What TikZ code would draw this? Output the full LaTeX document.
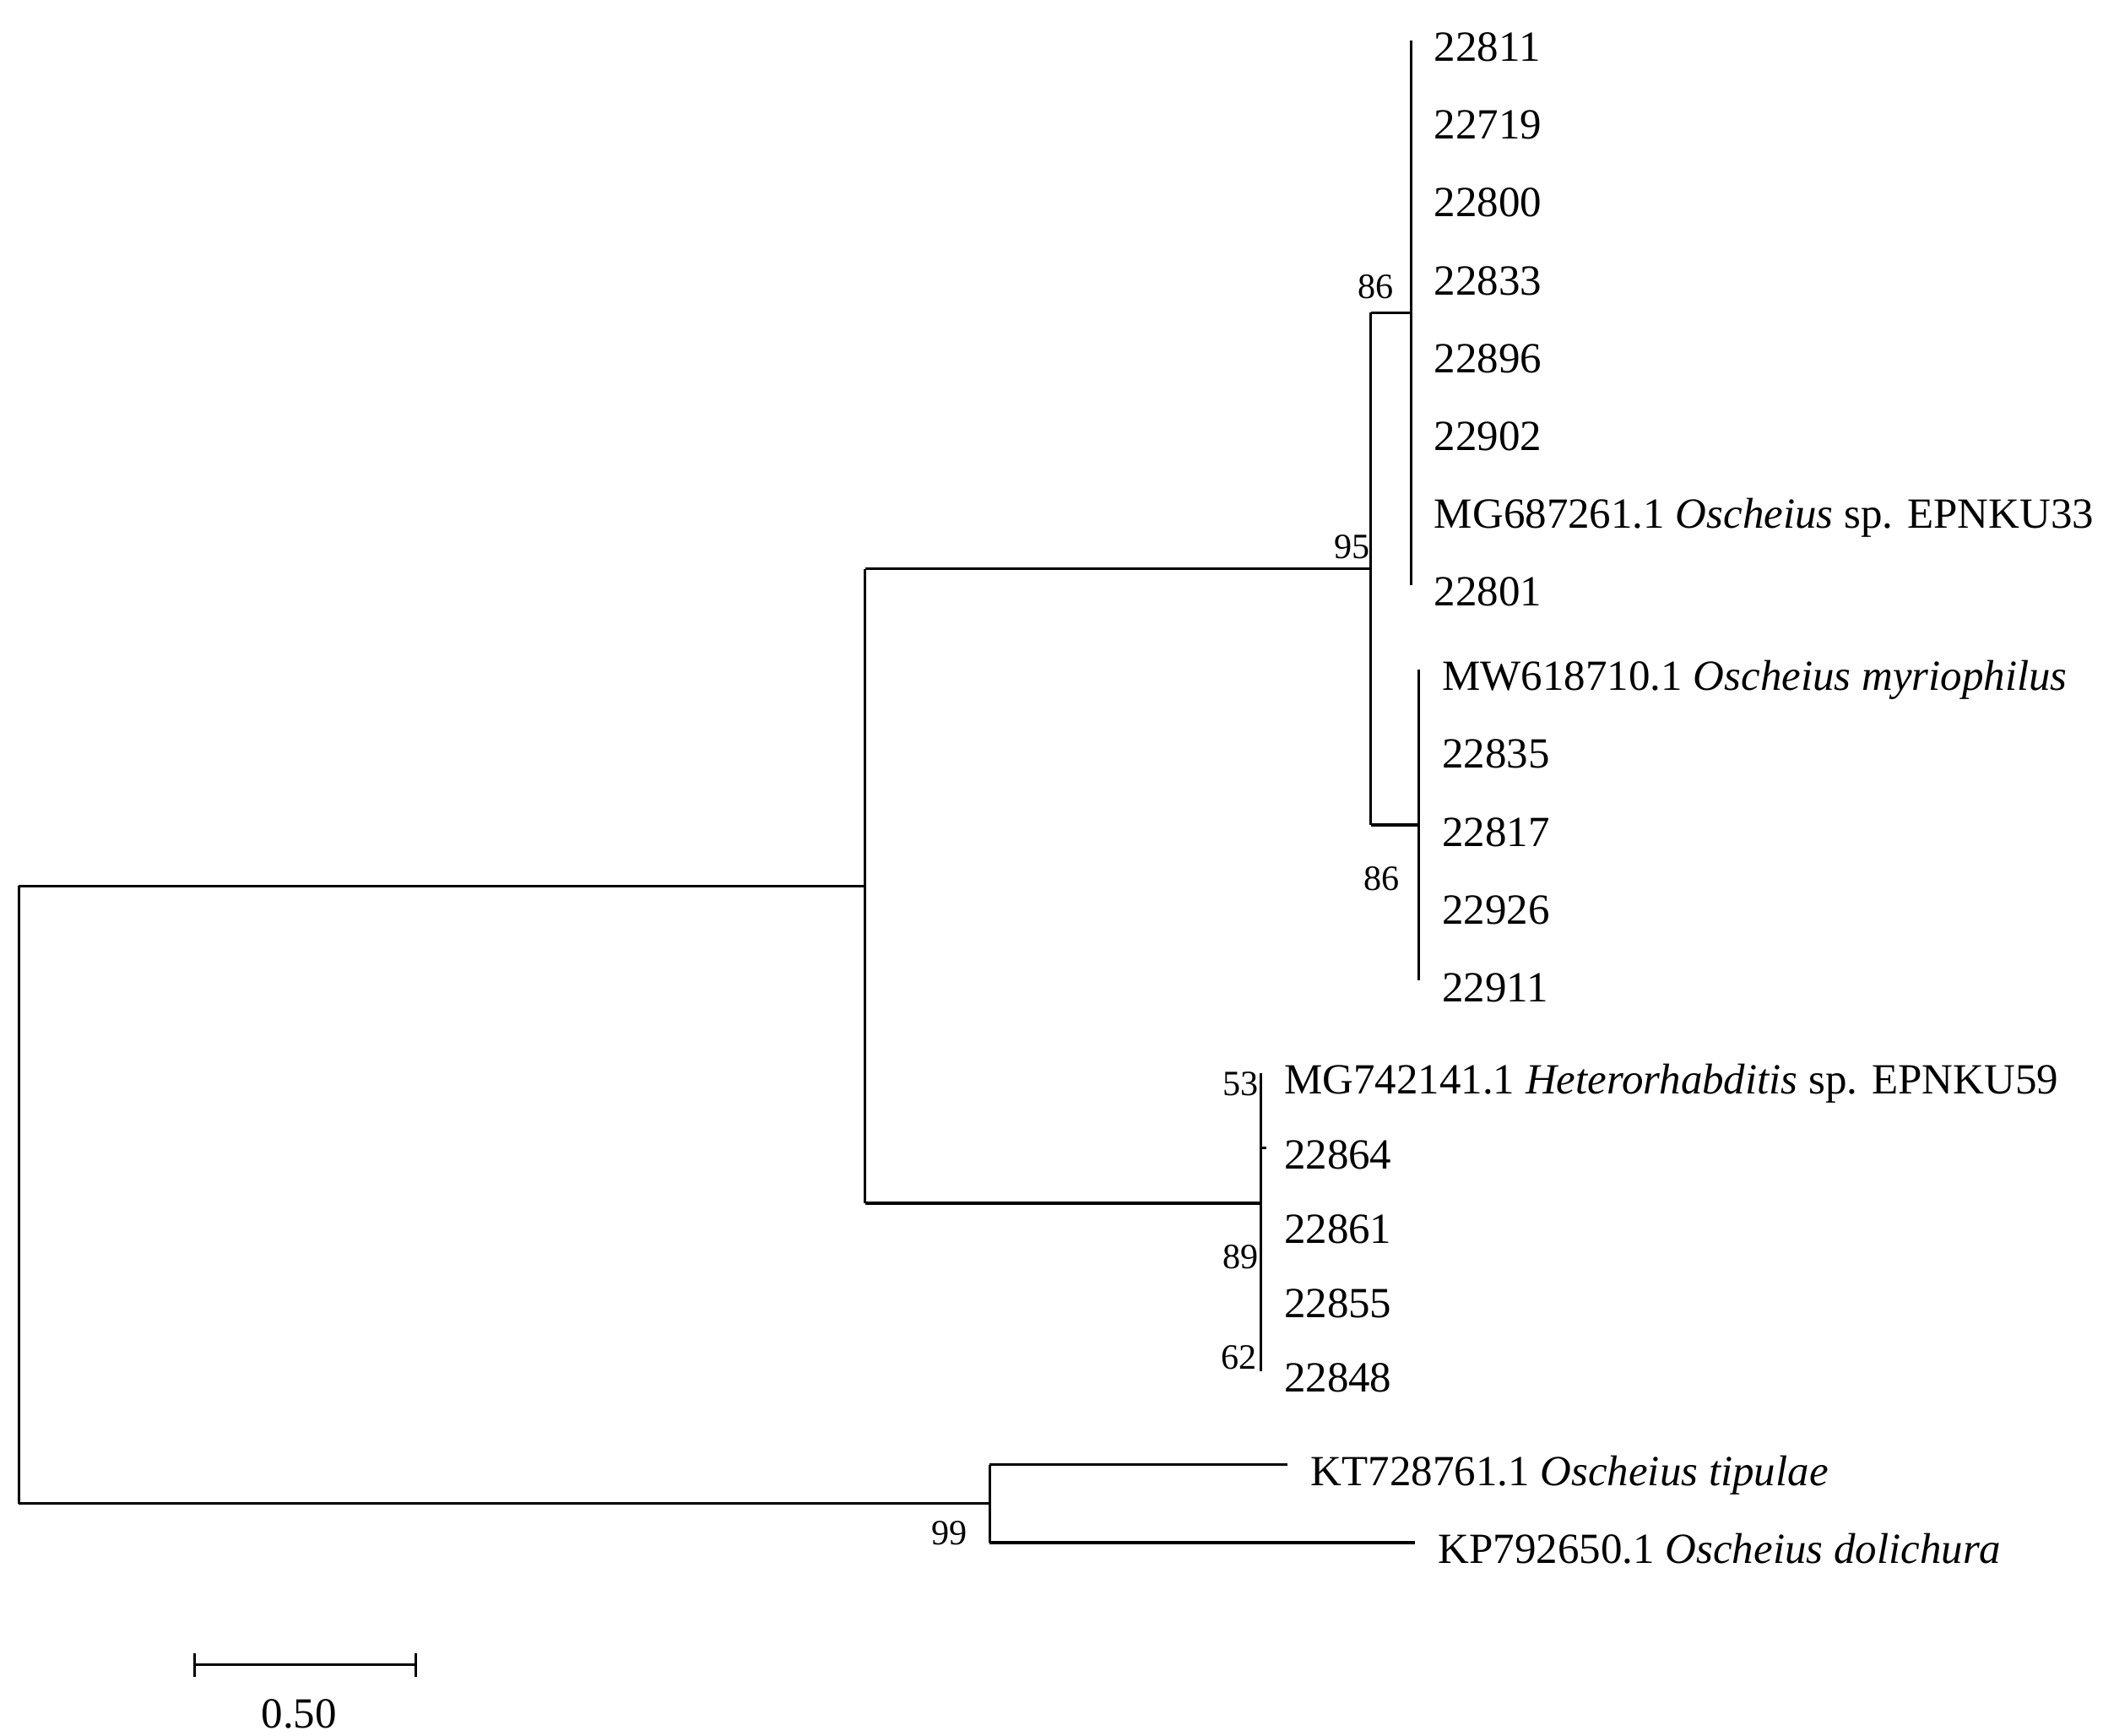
\documentclass[tikz,border=0pt]{standalone}
\usepackage{fontspec}
\setmainfont{Liberation Serif}
\usepackage{tikz}

\begin{document}
\begin{tikzpicture}[x=0.15887mm, y=-0.15887mm,
  branch/.style={line width=0.9pt},
  leaf/.style={anchor=base west, inner sep=0pt, xshift=2.7mm, yshift=-2.5mm, font=\fontsize{14.5}{17}\selectfont},
  boot/.style={inner sep=0pt, font=\fontsize{12}{14}\selectfont}]

\useasboundingbox (0,0) rectangle (1568,1294);

% Internal nodes of the tree
\coordinate (R1) at (14,660.5);   % root, upper end
\coordinate (R2) at (14,1121);    % root, lower end
\coordinate (A0) at (645,660.5);  % node A, join with root
\coordinate (A1) at (645,424);    % node A, upper end
\coordinate (A2) at (645,897);    % node A, lower end
\coordinate (B1) at (1022,233);   % node B (95), upper end
\coordinate (B0) at (1022,424);   % node B, join
\coordinate (B2) at (1022,615);   % node B, lower end
\coordinate (C0) at (1052,233);   % node C (86)
\coordinate (D0) at (1058,615);   % node D (86)
\coordinate (E0) at (940,897);    % node E (89)
\coordinate (F1) at (738,1092);   % node F (99), upper end
\coordinate (F0) at (738,1121);   % node F, join
\coordinate (F2) at (738,1150);   % node F, lower end

% Leaves of clade C
\foreach \lab [count=\i] in {22811,22719,22800,22833,22896,22902,
  {MG687261.1 \textit{Oscheius} sp. EPNKU33},22801}{
  \coordinate (c\i) at (1052,{30+58*(\i-1)});
  \node[leaf] (lc\i) at (c\i) {\lab};
}

% Leaves of clade D
\foreach \lab [count=\i] in {{MW618710.1 \textit{Oscheius myriophilus}},
  22835,22817,22926,22911}{
  \coordinate (d\i) at (1058,{499+58*(\i-1)});
  \node[leaf] (ld\i) at (d\i) {\lab};
}

% Leaves of clade E
\foreach \lab [count=\i] in {{MG742141.1 \textit{Heterorhabditis} sp. EPNKU59},
  22864,22861,22855,22848}{
  \coordinate (e\i) at (940,{800+55.5*(\i-1)});
  \node[leaf] (le\i) at (e\i) {\lab};
}

% Outgroup leaves
\coordinate (kt) at (960,1092);
\coordinate (kp) at (1055,1150);
\node[leaf] (lkt) at (kt) {KT728761.1 \textit{Oscheius tipulae}};
\node[leaf] (lkp) at (kp) {KP792650.1 \textit{Oscheius dolichura}};

% Branches
\draw[branch] (R1) -- (R2);
\draw[branch] (R1) -- (A0);
\draw[branch] (A1) -- (A2);
\draw[branch] (A1) -- (B0);
\draw[branch] (B1) -- (B2);
\draw[branch] (B1) -- (C0);
\draw[branch] (c1) -- (c8);
\draw[branch] (B2) -- (D0);
\draw[branch] (d1) -- (d5);
\draw[branch] (A2) -- (E0);
\draw[branch] (e1) -- (e5);
\draw[branch] (e2) -- ++(4,0);
\draw[branch] (R2) -- (F0);
\draw[branch] (F1) -- (F2);
\draw[branch] (F1) -- (kt);
\draw[branch] (F2) -- (kp);

% Bootstrap values
\node[boot] (b86a) at (1026,214) {86};
\node[boot] (b95) at (1008,408) {95};
\node[boot] (b86b) at (1030,655) {86};
\node[boot] (b53) at (925,808) {53};
\node[boot] (b89) at (925,937) {89};
\node[boot] (b62) at (924,1012) {62};
\node[boot] (b99) at (708,1143) {99};

% Scale bar
\coordinate (sL) at (145,1241);
\coordinate (sR) at (310,1241);
\draw[branch] (sL) -- (sR);
\draw[branch] ([yshift=1.4mm]sL) -- ([yshift=-1.4mm]sL);
\draw[branch] ([yshift=1.4mm]sR) -- ([yshift=-1.4mm]sR);
\node[inner sep=0pt, font=\fontsize{14.5}{17}\selectfont] (sLab) at (223,1278) {0.50};

\end{tikzpicture}
\end{document}
